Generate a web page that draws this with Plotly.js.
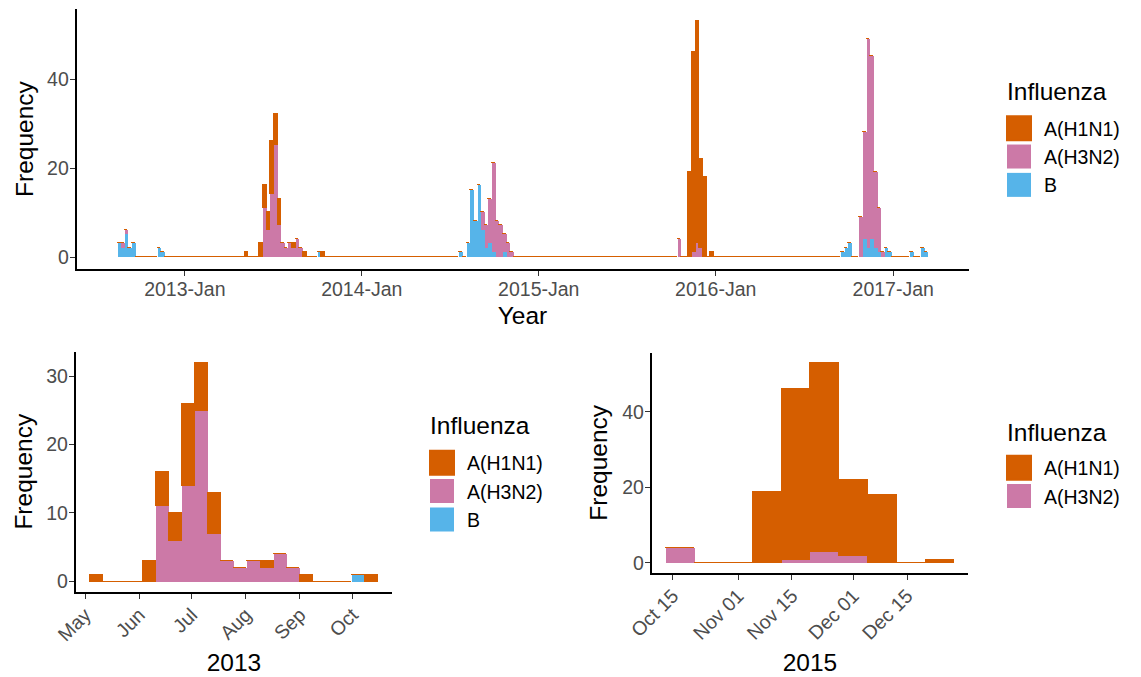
<!DOCTYPE html>
<html><head><meta charset="utf-8">
<script src="https://cdn.plot.ly/plotly-3.0.1.min.js"></script>
<style>html,body{margin:0;padding:0;background:#fff}#chart{width:1141px;height:677px}</style>
</head><body><div id="chart"></div>
<script>
// ---- data: histogram bins of 7.5 days starting 2012-08-14 ----
const binStartUTC = [2012, 7, 14, 5];   // first bin start (y, m0, d, h)
const binDays = 7.5;
const nBins = 223;

// A(H1N1): bin index -> count
const h1n1Bin   = [35, 39, 40, 41, 42, 43, 44, 48, 51, 56, 157, 158, 159, 160, 161, 163];
const h1n1Count = [ 1,  3,  5,  4, 12,  7,  6,  1,  1,  1,  19,  45,  50,  20,  18,   1];
// A(H3N2)
const h3n2Bin   = [1, 2, 40, 41, 42, 43, 44, 45, 46, 47, 48, 49, 50, 100, 101, 102, 103, 104, 105, 106, 107, 108, 154, 158, 159, 160, 204, 205, 206, 207, 208, 209, 210];
const h3n2Count = [1, 1, 11,  6, 14, 25,  7,  3,  2,  3,  2,  4,  2,   4,   5,  10,  20,   8,   7,   4,   3,   1,   4,   1,   3,   2,   9,  24,  47,  41,  17,  10,   1];
// B
const bBin   = [0, 1, 2, 3, 4, 11, 12, 55, 94, 96, 97, 98, 99, 100, 101, 102, 103, 106, 199, 200, 201, 205, 206, 207, 208, 209, 211, 212, 218, 221, 222];
const bCount = [3, 2, 5, 2, 3,  2,  1,  1,  1,  3, 15,  8, 16,   6,   2,   3,   1,   1,   1,   2,   3,   4,   2,   4,   2,   1,   2,   1,   1,   2,   1];

const seriesNames = ['A(H1N1)', 'A(H3N2)', 'B'];
const seriesColors = ['#D55E00', '#CC79A7', '#56B4E9'];
const legendTitle = 'Influenza';

// tick labels
const topTickVals = ['2013-01-01', '2014-01-01', '2015-01-01', '2016-01-01', '2017-01-01'];
const topTickText = ['2013-Jan', '2014-Jan', '2015-Jan', '2016-Jan', '2017-Jan'];
const blTickVals = ['2013-05-01', '2013-06-01', '2013-07-01', '2013-08-01', '2013-09-01', '2013-10-01'];
const blTickText = ['May', 'Jun', 'Jul', 'Aug', 'Sep', 'Oct'];
const brTickVals = ['2015-10-15', '2015-11-01', '2015-11-15', '2015-12-01', '2015-12-15'];
const brTickText = ['Oct 15', 'Nov 01', 'Nov 15', 'Dec 01', 'Dec 15'];

// panel bin windows
const blBins = [35, 56];
const brBins = [154, 163];

// ---- helpers ----
const DAY = 86400000;
const startMs = Date.UTC.apply(null, binStartUTC);
const binMs = binDays * DAY;
const iso = ms => new Date(ms).toISOString().replace('Z', '');
const edge = k => startMs + k * binMs;
function countAt(bins, counts, k) { const i = bins.indexOf(k); return i < 0 ? 0 : counts[i]; }

const seriesData = {
  'A(H1N1)': [h1n1Bin, h1n1Count],
  'A(H3N2)': [h3n2Bin, h3n2Count],
  'B': [bBin, bCount]
};

function panelTraces(lo, hi, names, xa, ya, leg) {
  const out = [];
  // stack order bottom->top: B, H3N2, H1N1
  ['B', 'A(H3N2)', 'A(H1N1)'].forEach(nm => {
    if (names.indexOf(nm) < 0) return;
    const [bins, counts] = seriesData[nm];
    const dense = nm === 'A(H1N1)';
    const xs = [], ys = [];
    for (let k = lo; k <= hi; k++) {
      const c = countAt(bins, counts, k);
      if (c > 0 || dense) { xs.push(iso(edge(k) + binMs / 2)); ys.push(c); }
    }
    const idx = seriesNames.indexOf(nm);
    const col = seriesColors[idx];
    out.push({
      type: 'bar', name: nm, x: xs, y: ys, width: binMs,
      xaxis: xa, yaxis: ya, legend: leg, legendrank: idx + 1,
      marker: { color: col, line: { width: dense ? 1 : 0, color: col } },
      hoverinfo: 'x+y+name'
    });
  });
  return out;
}

const traces = [].concat(
  panelTraces(0, nBins - 1, ['A(H1N1)', 'A(H3N2)', 'B'], 'x', 'y', 'legend'),
  panelTraces(blBins[0], blBins[1], ['A(H1N1)', 'A(H3N2)', 'B'], 'x2', 'y2', 'legend2'),
  panelTraces(brBins[0], brBins[1], ['A(H1N1)', 'A(H3N2)'], 'x3', 'y3', 'legend3')
);

function xRange(lo, hi) {
  const n = hi - lo + 1, pad = 0.05 * n * binMs;
  return [iso(edge(lo) - pad), iso(edge(hi + 1) + pad)];
}

const W = 1141, H = 677;
const fx = px => px / W, fy = py => 1 - py / H;
const FONT = 'Liberation Sans, Arial, Helvetica, sans-serif';
const TXT = 19.5, TTL = 24.5;

function xAxis(dom, anchor, range, tv, tt, title, angle, standoff) {
  return {
    domain: dom, anchor: anchor, type: 'date', range: range,
    tickmode: 'array', tickvals: tv, ticktext: tt, tickangle: angle,
    ticks: 'outside', ticklen: 5, tickwidth: 1.4, tickcolor: '#333333',
    ticklabelstandoff: -3,
    showline: true, linecolor: '#000', linewidth: 1.6,
    showgrid: false, zeroline: false, automargin: false, fixedrange: true,
    tickfont: { size: TXT, color: '#4D4D4D', family: FONT },
    title: { text: title, font: { size: TTL, color: '#000', family: FONT }, standoff: standoff }
  };
}
function yAxis(dom, anchor, range, tv, standoff) {
  return {
    domain: dom, anchor: anchor, range: range,
    tickmode: 'array', tickvals: tv, ticktext: tv.map(String),
    ticks: 'outside', ticklen: 5, tickwidth: 1.4, tickcolor: '#333333',
    ticklabelstandoff: -3,
    showline: true, linecolor: '#000', linewidth: 1.6,
    showgrid: false, zeroline: false, automargin: false, fixedrange: true,
    tickfont: { size: TXT, color: '#4D4D4D', family: FONT },
    title: { text: 'Frequency', font: { size: TTL, color: '#000', family: FONT }, standoff: standoff }
  };
}
function legendAt(px, py) {
  return {
    x: fx(px), y: fy(py), xanchor: 'left', yanchor: 'top',
    traceorder: 'normal', itemwidth: 30,
    bgcolor: 'rgba(0,0,0,0)', borderwidth: 0,
    font: { size: TXT, color: '#000', family: FONT }
  };
}
function legendTitleAt(px, py) {
  return {
    text: legendTitle, xref: 'paper', yref: 'paper', x: fx(px), y: fy(py),
    xanchor: 'left', yanchor: 'middle', showarrow: false,
    font: { size: TTL, color: '#000', family: FONT }
  };
}

const layout = {
  width: W, height: H,
  margin: { l: 0, r: 0, t: 0, b: 0 },
  paper_bgcolor: '#fff', plot_bgcolor: '#fff',
  barmode: 'stack', bargap: 0,
  font: { family: FONT, color: '#000' },
  showlegend: true,
  xaxis: xAxis([fx(76.5), fx(968.5)], 'y', xRange(0, nBins - 1), topTickVals, topTickText, 'Year', 0, 8),
  yaxis: yAxis([fy(268.8), fy(9.4)], 'x', [-2.65, 55.65], [0, 20, 40], 7),
  xaxis2: xAxis([fx(75.6), fx(392.4)], 'y2', xRange(blBins[0], blBins[1]), blTickVals, blTickText, '2013', -45, 10),
  yaxis2: yAxis([fy(592), fy(351.5)], 'x2', [-1.6, 33.6], [0, 10, 20, 30], 7),
  xaxis3: xAxis([fx(651.6), fx(968.4)], 'y3', xRange(brBins[0], brBins[1]), brTickVals, brTickText, '2015', -45, 11),
  yaxis3: yAxis([fy(573), fy(352.6)], 'x3', [-2.65, 55.65], [0, 20, 40], 8),
  legend: legendAt(1004, 109),
  legend2: legendAt(427, 443.5),
  legend3: legendAt(1004, 448.5),
  annotations: [
    legendTitleAt(1005, 92),
    legendTitleAt(428, 425),
    legendTitleAt(1005, 432)
  ]
};

Plotly.newPlot('chart', traces, layout, { displayModeBar: false }).then(() => {
  document.querySelectorAll('g.legendpoints path').forEach(p => {
    p.setAttribute('transform', (p.getAttribute('transform') || '') + ' translate(-5,0) scale(2)');
  });
});
</script></body></html>
